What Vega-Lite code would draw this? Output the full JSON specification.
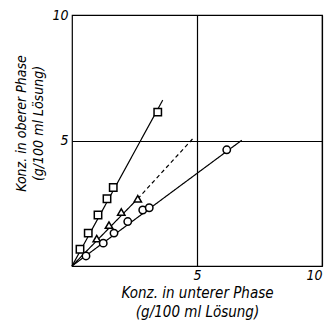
{
  "$schema": "https://vega.github.io/schema/vega-lite/v6.json",
  "width": 250,
  "height": 251,
  "autosize": "none",
  "padding": {"left": 72, "top": 15, "right": 8, "bottom": 64},
  "background": "white",
  "config": {
    "view": {"stroke": "black", "strokeWidth": 1.2},
    "font": "'DejaVu Sans Condensed', Roboto, sans-serif"
  },
  "datasets": {
    "pts": [
      {"s": "A", "x": 0.32, "y": 0.67},
      {"s": "A", "x": 0.65, "y": 1.31},
      {"s": "A", "x": 1.04, "y": 2.03},
      {"s": "A", "x": 1.4, "y": 2.68},
      {"s": "A", "x": 1.65, "y": 3.13},
      {"s": "A", "x": 3.43, "y": 6.13},
      {"s": "B", "x": 0.99, "y": 1.09},
      {"s": "B", "x": 1.48, "y": 1.63},
      {"s": "B", "x": 1.97, "y": 2.15},
      {"s": "B", "x": 2.63, "y": 2.68},
      {"s": "C", "x": 0.56, "y": 0.4},
      {"s": "C", "x": 1.25, "y": 0.91},
      {"s": "C", "x": 1.68, "y": 1.31},
      {"s": "C", "x": 2.23, "y": 1.77},
      {"s": "C", "x": 2.83, "y": 2.23},
      {"s": "C", "x": 3.09, "y": 2.32},
      {"s": "C", "x": 6.19, "y": 4.63}
    ],
    "lines": [
      {"s": "A", "d": "solid", "x": 0, "y": 0},
      {"s": "A", "d": "solid", "x": 3.63, "y": 6.61},
      {"s": "B", "d": "solid", "x": 0, "y": 0},
      {"s": "B", "d": "solid", "x": 2.63, "y": 2.68},
      {"s": "B2", "d": "dashed", "x": 2.63, "y": 2.68},
      {"s": "B2", "d": "dashed", "x": 4.83, "y": 5.07},
      {"s": "C", "d": "solid", "x": 0, "y": 0},
      {"s": "C", "d": "solid", "x": 6.79, "y": 5.01}
    ]
  },
  "layer": [
    {
      "data": {"name": "lines"},
      "mark": {"type": "line", "color": "black", "strokeWidth": 1.2},
      "encoding": {
        "x": {
          "field": "x", "type": "quantitative",
          "scale": {"domain": [0, 10], "nice": false},
          "axis": {
            "values": [5, 10], "grid": true, "gridColor": "black", "gridOpacity": 1, "gridWidth": 1.2,
            "ticks": false, "domain": false, "labelPadding": 2,
            "labelFont": "'DejaVu Sans Condensed', Roboto, sans-serif", "labelFontStyle": "italic", "labelFontSize": 14, "labelColor": "black",
            "title": ["Konz. in unterer Phase", "(g/100 ml Lösung)"],
            "titleFont": "'DejaVu Sans Condensed', Roboto, sans-serif", "titleFontStyle": "italic", "titleFontWeight": "normal",
            "titleFontSize": 15, "titleColor": "black", "titlePadding": 3, "titleLineHeight": 19
          }
        },
        "y": {
          "field": "y", "type": "quantitative",
          "scale": {"domain": [0, 10], "nice": false},
          "axis": {
            "values": [5, 10], "grid": true, "gridColor": "black", "gridOpacity": 1, "gridWidth": 1.2,
            "ticks": false, "domain": false, "labelPadding": 4,
            "labelFont": "'DejaVu Sans Condensed', Roboto, sans-serif", "labelFontStyle": "italic", "labelFontSize": 14, "labelColor": "black",
            "title": ["Konz. in oberer Phase", "(g/100 ml Lösung)"],
            "titleFont": "'DejaVu Sans Condensed', Roboto, sans-serif", "titleFontStyle": "italic", "titleFontWeight": "normal",
            "titleFontSize": 14, "titleColor": "black", "titleLineHeight": 17,
            "titleX": -44, "titleY": 108
          }
        },
        "detail": {"field": "s"},
        "strokeDash": {
          "field": "d", "type": "nominal",
          "scale": {"domain": ["solid", "dashed"], "range": [[1, 0], [4, 3]]},
          "legend": null
        }
      }
    },
    {
      "data": {"name": "pts"},
      "mark": {"type": "point", "filled": true, "fill": "white", "stroke": "black", "strokeWidth": 1.5, "size": 55, "opacity": 1},
      "encoding": {
        "x": {"field": "x", "type": "quantitative"},
        "y": {"field": "y", "type": "quantitative"},
        "shape": {
          "field": "s", "type": "nominal",
          "scale": {"domain": ["A", "B", "C"], "range": ["square", "triangle-up", "circle"]},
          "legend": null
        }
      }
    }
  ]
}
